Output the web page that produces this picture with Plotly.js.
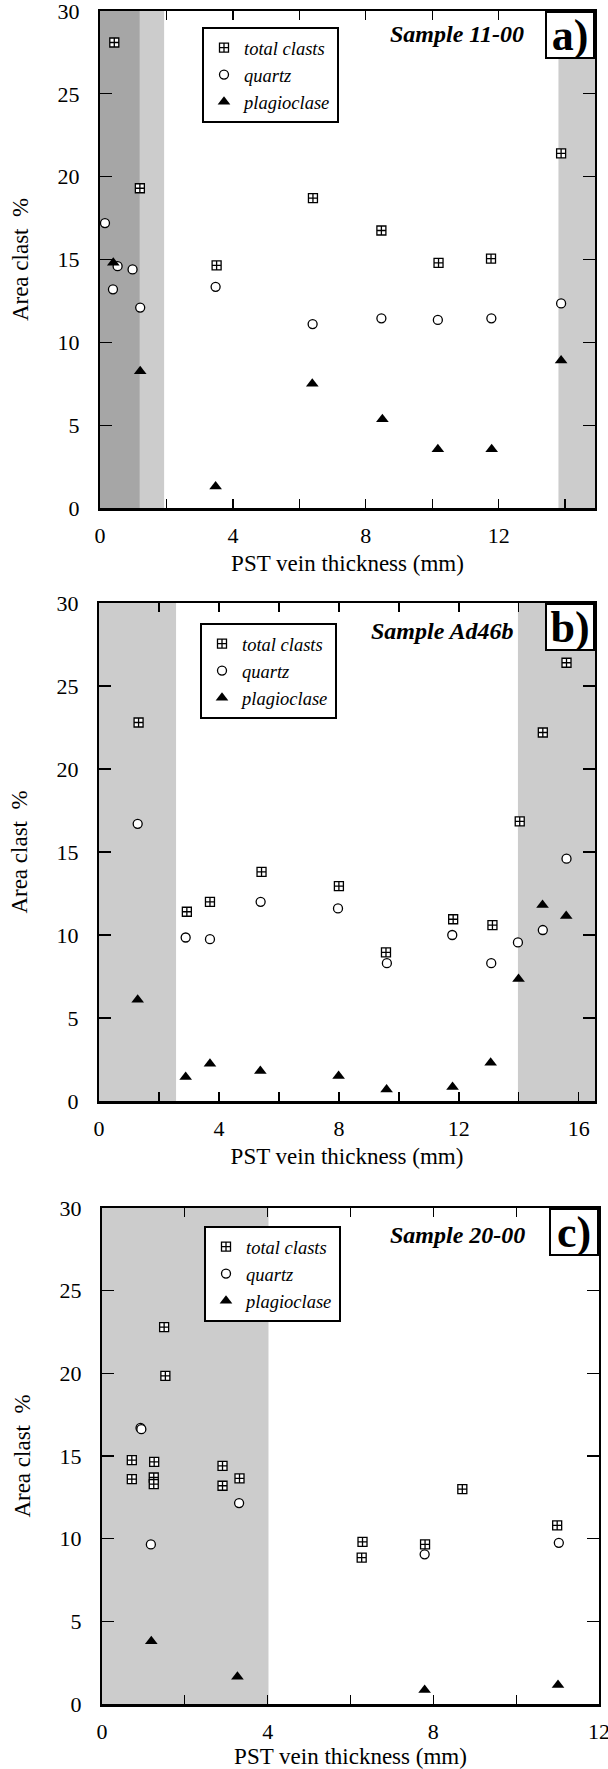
<!DOCTYPE html>
<html>
<head>
<meta charset="utf-8">
<script src="https://cdn.plot.ly/plotly-3.0.1.min.js"></script>
</head>
<body style="margin:0">
<div id="chart"></div>
<script>
// ---------- data ----------
const seriesNames = ['total clasts', 'quartz', 'plagioclase'];
const sampleNames = ['Sample 11-00', 'Sample Ad46b', 'Sample 20-00'];
const panelLetters = ['a)', 'b)', 'c)'];
const xTitle = 'PST vein thickness (mm)';
const yTitle = 'Area clast\u00a0\u00a0%';

// Panel a : Sample 11-00
const totalA_x = [0.43, 1.20, 3.51, 6.41, 8.47, 10.19, 11.77, 13.88];
const totalA_y = [28.1, 19.3, 14.65, 18.7, 16.75, 14.8, 15.05, 21.4];
const quartzA_x = [0.15, 0.39, 0.53, 0.98, 1.21, 3.48, 6.40, 8.47, 10.17, 11.78, 13.88];
const quartzA_y = [17.2, 13.2, 14.6, 14.4, 12.1, 13.35, 11.1, 11.45, 11.35, 11.45, 12.35];
const plagA_x = [0.40, 1.21, 3.48, 6.39, 8.50, 10.17, 11.79, 13.88];
const plagA_y = [14.8, 8.25, 1.3, 7.5, 5.35, 3.55, 3.55, 8.9];

// Panel b : Sample Ad46b
const totalB_x = [1.32, 2.93, 3.70, 5.42, 8.00, 9.57, 11.81, 13.12, 14.03, 14.80, 15.59];
const totalB_y = [22.8, 11.4, 12.0, 13.8, 12.95, 8.95, 10.95, 10.6, 16.85, 22.2, 26.4];
const quartzB_x = [1.29, 2.89, 3.70, 5.39, 7.97, 9.60, 11.78, 13.08, 13.97, 14.80, 15.59];
const quartzB_y = [16.7, 9.85, 9.75, 12.0, 11.6, 8.3, 10.0, 8.3, 9.55, 10.3, 14.6];
const plagB_x = [1.29, 2.89, 3.70, 5.38, 7.99, 9.59, 11.79, 13.06, 13.99, 14.79, 15.58];
const plagB_y = [6.1, 1.45, 2.25, 1.8, 1.5, 0.7, 0.85, 2.3, 7.35, 11.8, 11.15];

// Panel c : Sample 20-00
const totalC_x = [0.72, 0.72, 1.26, 1.25, 1.25, 1.50, 1.53, 2.91, 2.91, 3.32, 6.29, 6.27, 7.80, 8.70, 10.99];
const totalC_y = [14.75, 13.6, 14.65, 13.7, 13.3, 22.8, 19.85, 14.4, 13.2, 13.65, 9.8, 8.85, 9.65, 13.0, 10.8];
const quartzC_x = [0.93, 0.95, 1.18, 3.31, 7.79, 11.03];
const quartzC_y = [16.7, 16.62, 9.65, 12.15, 9.05, 9.75];
const plagC_x = [1.19, 3.27, 7.79, 11.01];
const plagC_y = [3.8, 1.65, 0.85, 1.15];

// axis ranges and ticks
const xRangeA = [0, 14.9], xRangeB = [0, 16.54], xRangeC = [0, 12];
const xTickValsA = [0, 2, 4, 6, 8, 10, 12, 14];
const xTickTextA = ['0', '', '4', '', '8', '', '12', ''];
const xTickValsB = [0, 2, 4, 6, 8, 10, 12, 14, 16];
const xTickTextB = ['0', '', '4', '', '8', '', '12', '', '16'];
const xTickValsC = [0, 2, 4, 6, 8, 10, 12];
const xTickTextC = ['0', '', '4', '', '8', '', '12'];
const yRange = [0, 30];
const yTickVals = [0, 5, 10, 15, 20, 25, 30];
const yTickText = ['0', '5', '10', '15', '20', '25', '30'];

// shaded vein zones (x extents, mm)
const darkBandsA = [[0, 1.2]];
const lightBandsA = [[1.2, 1.93], [13.8, 14.9]];
const lightBandsB = [[0, 2.57], [13.97, 16.54]];
const lightBandsC = [[0, 4.02]];

// ---------- styling ----------
const FONT = 'Liberation Serif';
const W = 608, H = 1769;
const DARK = '#a6a6a6', LIGHT = '#cccccc';

// plot areas in pixels [left, right, top, bottom]
const boxes = [[100, 595, 11, 508], [99, 595, 603, 1101], [102, 599, 1208, 1704]];

function xdom(b) { return [b[0] / W, b[1] / W]; }
function ydom(b) { return [1 - b[3] / H, 1 - b[2] / H]; }

const sq = {symbol: 'square-cross', size: 9, color: 'white', line: {color: 'black', width: 1.3}};
const ci = {symbol: 'circle', size: 9, color: 'white', line: {color: 'black', width: 1.3}};
const tr = {symbol: 'triangle-up', size: 11, color: 'black', line: {color: 'black', width: 0}};

const panels = [
  {tx: totalA_x, ty: totalA_y, qx: quartzA_x, qy: quartzA_y, px: plagA_x, py: plagA_y},
  {tx: totalB_x, ty: totalB_y, qx: quartzB_x, qy: quartzB_y, px: plagB_x, py: plagB_y},
  {tx: totalC_x, ty: totalC_y, qx: quartzC_x, qy: quartzC_y, px: plagC_x, py: plagC_y}
];

const traces = [];
panels.forEach((p, i) => {
  const sfx = i === 0 ? '' : String(i + 1);
  const leg = 'legend' + sfx;
  const common = {type: 'scatter', mode: 'markers', xaxis: 'x' + sfx, yaxis: 'y' + sfx, legend: leg, cliponaxis: false};
  traces.push(Object.assign({}, common, {x: p.tx, y: p.ty, name: seriesNames[0], marker: sq}));
  traces.push(Object.assign({}, common, {x: p.qx, y: p.qy, name: seriesNames[1], marker: ci}));
  traces.push(Object.assign({}, common, {x: p.px, y: p.py, name: seriesNames[2], marker: tr}));
});

function makeX(b, range, vals, text, anchor) {
  return {
    domain: xdom(b), range: range, anchor: anchor,
    tickmode: 'array', tickvals: vals, ticktext: text,
    ticks: 'inside', ticklen: 9, tickwidth: 1.3, tickcolor: 'black',
    showline: true, linewidth: 2.5, linecolor: 'black', mirror: 'ticks',
    showgrid: false, zeroline: false,
    tickfont: {family: FONT, size: 22, color: 'black'},
    ticklabelstandoff: 6, ticklabeloverflow: 'allow',
    title: {text: xTitle, font: {family: FONT, size: 23, color: 'black'}, standoff: 8},
    automargin: false
  };
}
function makeY(b, anchor) {
  return {
    domain: ydom(b), range: yRange, anchor: anchor,
    tickmode: 'array', tickvals: yTickVals, ticktext: yTickText,
    ticks: 'inside', ticklen: 12, tickwidth: 1.3, tickcolor: 'black',
    showline: true, linewidth: 2, linecolor: 'black', mirror: 'ticks',
    showgrid: false, zeroline: false,
    tickfont: {family: FONT, size: 22, color: 'black'},
    ticklabelstandoff: 14, ticklabeloverflow: 'allow',
    title: {text: yTitle, font: {family: FONT, size: 23, color: 'black'}, standoff: 23},
    automargin: false
  };
}

const shapes = [];
function addBands(bands, color, sfx) {
  bands.forEach(bd => shapes.push({type: 'rect', xref: 'x' + sfx, yref: 'y' + sfx, x0: bd[0], x1: bd[1], y0: yRange[0], y1: yRange[1], fillcolor: color, line: {width: 0}, layer: 'below'}));
}
addBands(darkBandsA, DARK, '');
addBands(lightBandsA, LIGHT, '');
addBands(lightBandsB, LIGHT, '2');
addBands(lightBandsC, LIGHT, '3');

// legend / label positions in pixels
const legendPos = [[202, 27], [200, 623], [204, 1226]];
const samplePos = [[526, 34], [515, 631], [527, 1235]];

function makeLegend(i) {
  return {
    x: legendPos[i][0] / W, y: 1 - legendPos[i][1] / H, xref: 'paper', yref: 'paper',
    xanchor: 'left', yanchor: 'top',
    bgcolor: 'white', bordercolor: 'black', borderwidth: 2,
    font: {family: FONT, size: 18.5, color: 'black', style: 'italic'},
    itemclick: false, itemdoubleclick: false, tracegroupgap: 0
  };
}

const annotations = [];
boxes.forEach((b, i) => {
  annotations.push({
    xref: 'paper', yref: 'paper', x: samplePos[i][0] / W, y: 1 - samplePos[i][1] / H,
    xanchor: 'right', yanchor: 'middle', showarrow: false, text: sampleNames[i],
    font: {family: FONT, size: 24, color: 'black', weight: 'bold', style: 'italic'}
  });
  annotations.push({
    xref: 'paper', yref: 'paper', x: b[1] / W, y: 1 - b[2] / H,
    xanchor: 'right', yanchor: 'top', showarrow: false, text: panelLetters[i],
    width: 46, height: 44, borderpad: 0, borderwidth: 2, bordercolor: 'black', bgcolor: 'white',
    font: {family: FONT, size: 44, color: 'black', weight: 'bold'}
  });
});

const layout = {
  width: W, height: H, margin: {l: 0, r: 0, t: 0, b: 0},
  paper_bgcolor: 'white', plot_bgcolor: 'white', showlegend: true,
  xaxis: makeX(boxes[0], xRangeA, xTickValsA, xTickTextA, 'y'),
  yaxis: makeY(boxes[0], 'x'),
  xaxis2: makeX(boxes[1], xRangeB, xTickValsB, xTickTextB, 'y2'),
  yaxis2: makeY(boxes[1], 'x2'),
  xaxis3: makeX(boxes[2], xRangeC, xTickValsC, xTickTextC, 'y3'),
  yaxis3: makeY(boxes[2], 'x3'),
  legend: makeLegend(0), legend2: makeLegend(1), legend3: makeLegend(2),
  shapes: shapes, annotations: annotations
};

Plotly.newPlot('chart', traces, layout, {displayModeBar: false, staticPlot: true});
</script>
</body>
</html>
